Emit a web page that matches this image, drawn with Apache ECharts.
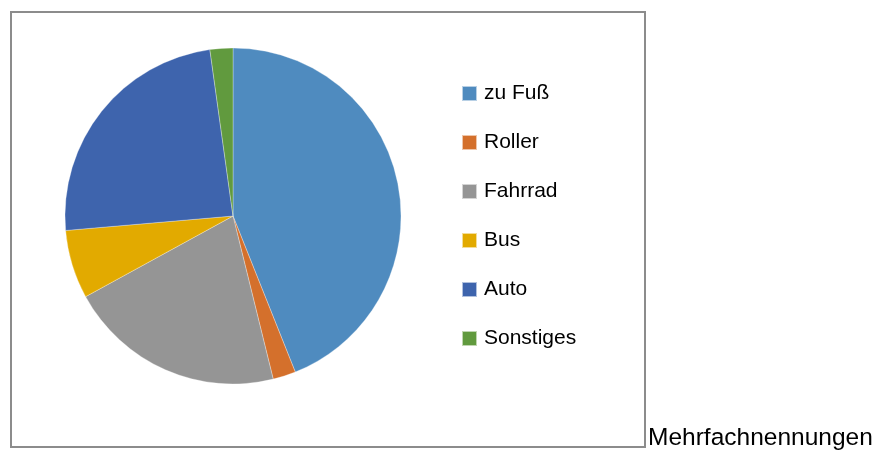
<!DOCTYPE html>
<html>
<head>
    <meta charset="utf-8">
    <title>Mehrfachnennungen</title>
    <script src="https://cdn.jsdelivr.net/npm/echarts@6/dist/echarts.min.js"></script>
    <style>
        html, body { margin: 0; padding: 0; background: #fff; }
    </style>
</head>
<body>
    <div id="main" style="width: 876px;height:452px;"></div>
    <script>
        var categories = ['zu Fuß', 'Roller', 'Fahrrad', 'Bus', 'Auto', 'Sonstiges'];
        var values = [40, 2, 19, 6, 22, 2];
        var colors = ['#4f8bbf', '#d4702c', '#959595', '#e2aa00', '#3e64ad', '#619a3e'];

        var myChart = echarts.init(document.getElementById('main'));

        var pieData = categories.map(function (name, i) {
            return { name: name, value: values[i], itemStyle: { color: colors[i] } };
        });

        var option = {
            animation: false,
            textStyle: { fontFamily: 'Liberation Sans' },
            legend: {
                orient: 'vertical',
                left: 456,
                top: 78,
                itemWidth: 15,
                itemHeight: 15,
                itemGap: 28,
                icon: 'rect',
                data: categories,
                textStyle: { fontSize: 21, lineHeight: 21, color: '#000', fontFamily: 'Liberation Sans', padding: [0, 0, 0, 2] }
            },
            graphic: [{
                type: 'rect',
                shape: { x: 11, y: 12, width: 634, height: 435 },
                style: { fill: 'none', stroke: '#8c8c8c', lineWidth: 2 },
                z: 0
            }, {
                type: 'text',
                left: 648,
                top: 426,
                style: { text: 'Mehrfachnennungen', fontSize: 24.5, fill: '#000', fontFamily: 'Liberation Sans' }
            }],
            series: [{
                type: 'pie',
                center: [233, 216],
                radius: 168,
                startAngle: 90,
                clockwise: true,
                label: { show: false },
                labelLine: { show: false },
                emphasis: { disabled: true },
                itemStyle: { borderColor: 'rgba(255,255,255,0.6)', borderWidth: 0.5 },
                data: pieData
            }]
        };

        myChart.setOption(option);
    </script>
</body>
</html>
